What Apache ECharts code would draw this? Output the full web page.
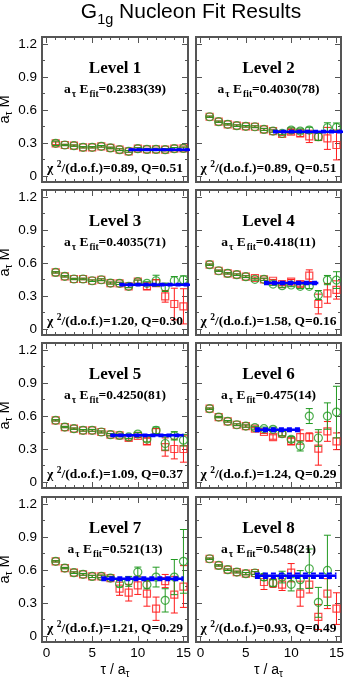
<!DOCTYPE html>
<html>
<head>
<meta charset="utf-8">
<script src="https://cdn.jsdelivr.net/npm/echarts@6/dist/echarts.min.js"></script>
<style>
html, body { margin: 0; padding: 0; background: #fff; }
#chart { width: 346px; height: 677px; }
</style>
</head>
<body>
<div id="chart"></div>
<script>
const tau = [1, 2, 3, 4, 5, 6, 7, 8, 9, 10, 11, 12, 13, 14, 15]
const levels = ['Level 1', 'Level 2', 'Level 3', 'Level 4', 'Level 5', 'Level 6', 'Level 7', 'Level 8']

const redM = [
  [0.297, 0.282, 0.276, 0.261, 0.261, 0.270, 0.255, 0.239, 0.224, 0.248, 0.242, 0.242, 0.239, 0.248, 0.251],
  [0.539, 0.494, 0.470, 0.458, 0.452, 0.448, 0.424, 0.409, 0.382, 0.403, 0.388, 0.360, 0.357, 0.342, 0.282],
  [0.515, 0.479, 0.455, 0.455, 0.439, 0.448, 0.418, 0.415, 0.388, 0.430, 0.388, 0.418, 0.297, 0.227, 0.206],
  [0.585, 0.530, 0.506, 0.494, 0.476, 0.464, 0.452, 0.439, 0.409, 0.430, 0.409, 0.485, 0.227, 0.324, 0.355],
  [0.561, 0.500, 0.485, 0.470, 0.470, 0.455, 0.430, 0.424, 0.400, 0.420, 0.370, 0.455, 0.318, 0.300, 0.300],
  [0.667, 0.591, 0.552, 0.521, 0.509, 0.485, 0.455, 0.409, 0.440, 0.370, 0.409, 0.409, 0.303, 0.460, 0.370],
  [0.679, 0.618, 0.576, 0.561, 0.542, 0.542, 0.527, 0.430, 0.394, 0.461, 0.385, 0.248, 0.500, 0.376, 0.450],
  [0.703, 0.642, 0.603, 0.582, 0.567, 0.573, 0.491, 0.482, 0.467, 0.576, 0.385, 0.467, 0.173, 0.385, 0.249]
]
const redErr = [
  [0.012, 0.006, 0.006, 0.006, 0.006, 0.007, 0.007, 0.008, 0.008, 0.009, 0.009, 0.010, 0.010, 0.011, 0.012],
  [0.006, 0.006, 0.006, 0.007, 0.007, 0.008, 0.009, 0.010, 0.012, 0.020, 0.030, 0.056, 0.035, 0.100, 0.136],
  [0.006, 0.006, 0.006, 0.007, 0.007, 0.008, 0.009, 0.010, 0.012, 0.015, 0.030, 0.030, 0.053, 0.144, 0.160],
  [0.006, 0.006, 0.006, 0.007, 0.008, 0.009, 0.010, 0.012, 0.015, 0.020, 0.020, 0.053, 0.090, 0.090, 0.083],
  [0.006, 0.006, 0.006, 0.007, 0.008, 0.009, 0.010, 0.012, 0.020, 0.015, 0.030, 0.030, 0.083, 0.090, 0.120],
  [0.006, 0.006, 0.007, 0.008, 0.010, 0.012, 0.015, 0.020, 0.020, 0.030, 0.065, 0.038, 0.150, 0.090, 0.076],
  [0.006, 0.006, 0.007, 0.008, 0.010, 0.012, 0.015, 0.060, 0.076, 0.083, 0.114, 0.106, 0.060, 0.167, 0.190],
  [0.006, 0.006, 0.007, 0.008, 0.010, 0.012, 0.068, 0.040, 0.053, 0.083, 0.114, 0.076, 0.114, 0.136, 0.144]
]
const greenM = [
  [0.297, 0.282, 0.276, 0.261, 0.261, 0.270, 0.255, 0.239, 0.224, 0.248, 0.242, 0.242, 0.239, 0.248, 0.251],
  [0.539, 0.494, 0.470, 0.458, 0.452, 0.448, 0.424, 0.409, 0.388, 0.418, 0.409, 0.418, 0.357, 0.439, 0.442],
  [0.515, 0.479, 0.455, 0.455, 0.439, 0.448, 0.418, 0.415, 0.388, 0.430, 0.415, 0.439, 0.379, 0.439, 0.448],
  [0.585, 0.530, 0.506, 0.494, 0.476, 0.452, 0.452, 0.409, 0.394, 0.400, 0.388, 0.388, 0.309, 0.445, 0.445],
  [0.561, 0.500, 0.485, 0.470, 0.470, 0.455, 0.430, 0.424, 0.410, 0.436, 0.390, 0.470, 0.350, 0.420, 0.380],
  [0.667, 0.591, 0.552, 0.521, 0.509, 0.494, 0.485, 0.479, 0.440, 0.388, 0.327, 0.600, 0.400, 0.600, 0.636],
  [0.679, 0.618, 0.576, 0.561, 0.542, 0.542, 0.527, 0.476, 0.497, 0.582, 0.467, 0.536, 0.324, 0.536, 0.679],
  [0.703, 0.642, 0.603, 0.582, 0.567, 0.573, 0.536, 0.482, 0.536, 0.470, 0.512, 0.612, 0.306, 0.597, null]
]
const greenErr = [
  [0.020, 0.006, 0.006, 0.006, 0.006, 0.007, 0.007, 0.008, 0.008, 0.009, 0.009, 0.010, 0.010, 0.011, 0.012],
  [0.006, 0.006, 0.006, 0.007, 0.007, 0.008, 0.009, 0.010, 0.012, 0.020, 0.020, 0.025, 0.033, 0.045, 0.040],
  [0.006, 0.006, 0.006, 0.007, 0.007, 0.008, 0.009, 0.010, 0.012, 0.015, 0.015, 0.050, 0.038, 0.038, 0.035],
  [0.006, 0.006, 0.006, 0.007, 0.008, 0.009, 0.010, 0.012, 0.015, 0.015, 0.020, 0.020, 0.041, 0.042, 0.076],
  [0.006, 0.006, 0.006, 0.007, 0.008, 0.009, 0.010, 0.012, 0.015, 0.015, 0.025, 0.030, 0.060, 0.038, 0.053],
  [0.006, 0.006, 0.007, 0.008, 0.010, 0.012, 0.015, 0.020, 0.020, 0.025, 0.045, 0.068, 0.076, 0.120, 0.235],
  [0.006, 0.006, 0.007, 0.008, 0.010, 0.012, 0.015, 0.030, 0.045, 0.045, 0.038, 0.090, 0.106, 0.160, 0.290],
  [0.006, 0.006, 0.007, 0.008, 0.010, 0.012, 0.030, 0.030, 0.053, 0.060, 0.083, 0.180, 0.136, 0.320, null]
]

// fit results per level
const fitE = [0.2383, 0.4030, 0.4035, 0.418, 0.4250, 0.475, 0.521, 0.548]
const fitErr = [0.0039, 0.0078, 0.0071, 0.011, 0.0081, 0.014, 0.013, 0.021]
const fitFrom = [9, 8, 8, 7, 7, 6, 6, 6]
const fitTo = [16, 16, 16, 13, 15, 11, 15, 15]
const fitText = ['0.2383(39)', '0.4030(78)', '0.4035(71)', '0.418(11)', '0.4250(81)', '0.475(14)', '0.521(13)', '0.548(21)']
const chi2 = ['0.89', '0.89', '1.20', '1.58', '1.09', '1.24', '1.21', '0.93']
const qVal = ['0.51', '0.51', '0.30', '0.16', '0.37', '0.29', '0.29', '0.49']

// tick labels
const xMajor = [0, 5, 10, 15]
const xMinor = [0, 1, 2, 3, 4, 5, 6, 7, 8, 9, 10, 11, 12, 13, 14, 15]
const yMajor = [0, 0.3, 0.6, 0.9, 1.2]
const yMinor = [0.15, 0.45, 0.75, 1.05]

const SANS = 'Liberation Sans'
const SERIF = 'Liberation Serif'
const FRAME = '#555'
const RED = '#ff1a1a'
const GREEN = '#229a22'
const BLUE = '#0000ff'

const colLeft = [42, 196]
const colWidth = [146, 145]
const rowTop = [37, 190, 343, 497]
const panelH = 145

function errorBars (color) {
  return function (params, api) {
    const t = api.value(0)
    const v = api.value(1)
    const e = api.value(2)
    const hi = api.coord([t, v + e])
    const lo = api.coord([t, v - e])
    const style = { stroke: color, lineWidth: 1 }
    return {
      type: 'group',
      children: [
        { type: 'line', shape: { x1: hi[0], y1: hi[1], x2: lo[0], y2: lo[1] }, style },
        { type: 'line', shape: { x1: hi[0] - 3.5, y1: hi[1], x2: hi[0] + 3.5, y2: hi[1] }, style },
        { type: 'line', shape: { x1: lo[0] - 3.5, y1: lo[1], x2: lo[0] + 3.5, y2: lo[1] }, style }
      ]
    }
  }
}

function points (vals, errs) {
  return tau.map((t, j) => [t, vals[j], errs[j]]).filter(d => d[1] != null)
}

const subRich = {
  a: { fontFamily: SERIF, fontWeight: 'bold', fontSize: 13.5, lineHeight: 15, fill: '#000', verticalAlign: 'middle' },
  s: { fontFamily: SERIF, fontWeight: 'bold', fontSize: 9.5, lineHeight: 10, fill: '#000', padding: [9, 0, 0, 1], verticalAlign: 'middle' },
  p: { fontFamily: SERIF, fontWeight: 'bold', fontSize: 9.5, lineHeight: 10, fill: '#000', padding: [0, 0, 9, 0], verticalAlign: 'middle' }
}

const grid = []
const xAxis = []
const yAxis = []
const series = []
const graphic = []

levels.forEach((name, i) => {
  const col = i % 2
  const row = Math.floor(i / 2)
  const left = colLeft[col]
  const top = rowTop[row]
  const w = colWidth[col]
  const cx = left + w / 2
  grid.push({
    left, top, width: w, height: panelH,
    show: true, borderColor: FRAME, borderWidth: 2,
    outerBoundsMode: 'none'
  })

  const xBase = {
    type: 'value', gridIndex: i, min: -0.5, max: 15.5,
    splitLine: { show: false }, axisLine: { show: false, onZero: false }
  }
  const tickStyle = { color: FRAME, width: 1 }
  const bottomRow = row === 3
  xAxis.push({
    ...xBase, position: 'bottom',
    axisTick: { inside: true, length: 6, customValues: xMajor, lineStyle: tickStyle },
    axisLabel: { show: bottomRow, customValues: xMajor, margin: 4, fontSize: 13.5, fontFamily: SANS, color: '#000' },
    name: bottomRow ? '{a|τ / a}{s|τ}' : '',
    nameLocation: 'middle', nameGap: 18,
    nameTextStyle: {
      rich: {
        a: { fontFamily: SANS, fontSize: 14, lineHeight: 16, color: '#000', verticalAlign: 'middle' },
        s: { fontFamily: SANS, fontSize: 10, lineHeight: 11, color: '#000', padding: [8, 0, 0, 0], verticalAlign: 'middle' }
      }
    }
  })
  xAxis.push({ ...xBase, position: 'bottom', axisTick: { inside: true, length: 3, customValues: xMinor, lineStyle: tickStyle }, axisLabel: { show: false } })
  xAxis.push({ ...xBase, position: 'top', axisTick: { inside: true, length: 6, customValues: xMajor, lineStyle: tickStyle }, axisLabel: { show: false } })
  xAxis.push({ ...xBase, position: 'top', axisTick: { inside: true, length: 3, customValues: xMinor, lineStyle: tickStyle }, axisLabel: { show: false } })

  const yBase = {
    type: 'value', gridIndex: i, min: -0.055, max: 1.265,
    splitLine: { show: false }, axisLine: { show: false, onZero: false }
  }
  const leftCol = col === 0
  yAxis.push({
    ...yBase, position: 'left',
    axisTick: { inside: true, length: 6, customValues: yMajor, lineStyle: tickStyle },
    axisLabel: { show: leftCol, customValues: yMajor, margin: 5, fontSize: 13.5, fontFamily: SANS, color: '#000' },
    name: leftCol ? '{a|a}{s|τ}{a| M}' : '',
    nameLocation: 'middle', nameGap: 24, nameRotate: 90,
    nameTextStyle: {
      rich: {
        a: { fontFamily: SANS, fontSize: 14.5, lineHeight: 16, color: '#000', verticalAlign: 'middle' },
        s: { fontFamily: SANS, fontSize: 10, lineHeight: 11, color: '#000', padding: [8, 0, 0, 0], verticalAlign: 'middle' }
      }
    }
  })
  yAxis.push({ ...yBase, position: 'left', axisTick: { inside: true, length: 3, customValues: yMinor, lineStyle: tickStyle }, axisLabel: { show: false } })
  yAxis.push({ ...yBase, position: 'right', axisTick: { inside: true, length: 6, customValues: yMajor, lineStyle: tickStyle }, axisLabel: { show: false } })
  yAxis.push({ ...yBase, position: 'right', axisTick: { inside: true, length: 3, customValues: yMinor, lineStyle: tickStyle }, axisLabel: { show: false } })

  const ax = { xAxisIndex: i * 4, yAxisIndex: i * 4 }
  series.push({
    ...ax, type: 'custom', renderItem: errorBars(RED), clip: true,
    encode: { x: 0, y: 1 }, data: points(redM[i], redErr[i]), z: 2
  })
  series.push({
    ...ax, type: 'scatter', symbol: 'rect', symbolSize: 7,
    itemStyle: { color: 'transparent', borderColor: RED, borderWidth: 1.2 },
    data: points(redM[i], redErr[i]), z: 3
  })
  series.push({
    ...ax, type: 'custom', renderItem: errorBars(GREEN), clip: true,
    encode: { x: 0, y: 1 }, data: points(greenM[i], greenErr[i]), z: 4
  })
  series.push({
    ...ax, type: 'scatter', symbol: 'circle', symbolSize: 8,
    itemStyle: { color: 'transparent', borderColor: GREEN, borderWidth: 1.2 },
    data: points(greenM[i], greenErr[i]), z: 5
  })
  const fitLine = (v, style) => ({
    ...ax, type: 'line', symbol: 'none', silent: true, z: 6,
    lineStyle: style,
    data: [[fitFrom[i], v], [fitTo[i], v]]
  })
  series.push(fitLine(fitE[i], { color: BLUE, width: 2.5 }))
  series.push(fitLine(fitE[i] + fitErr[i], { color: BLUE, width: 2, type: [5, 3] }))
  series.push(fitLine(fitE[i] - fitErr[i], { color: BLUE, width: 2, type: [5, 3] }))

  graphic.push({
    type: 'text', x: cx, y: top + 32, z: 100,
    style: {
      text: name, fontFamily: SERIF, fontWeight: 'bold', fontSize: 17, fill: '#000',
      align: 'center', verticalAlign: 'middle', textAlign: 'center', textVerticalAlign: 'middle'
    }
  })
  graphic.push({
    type: 'text', x: cx, y: top + 53, z: 100,
    style: {
      text: '{a|a}{s|τ}{a| E}{s|fit}{a|=' + fitText[i] + '}', rich: subRich,
      align: 'center', verticalAlign: 'middle', textAlign: 'center', textVerticalAlign: 'middle'
    }
  })
  graphic.push({
    type: 'text', x: cx, y: top + 132, z: 100,
    style: {
      text: '{a|χ }{p|2}{a|/(d.o.f.)=' + chi2[i] + ', Q=' + qVal[i] + '}', rich: subRich,
      align: 'center', verticalAlign: 'middle', textAlign: 'center', textVerticalAlign: 'middle'
    }
  })
})

graphic.push({
  type: 'text', x: 191, y: 12, z: 100,
  style: {
    text: '{a|G}{s|1g}{a| Nucleon Fit Results}',
    rich: {
      a: { fontFamily: SANS, fontSize: 21, lineHeight: 22, fill: '#000', verticalAlign: 'middle' },
      s: { fontFamily: SANS, fontSize: 14.5, lineHeight: 15, fill: '#000', padding: [15, 0, 0, 0], verticalAlign: 'middle' }
    },
    align: 'center', verticalAlign: 'middle', textAlign: 'center', textVerticalAlign: 'middle'
  }
})

const chart = echarts.init(document.getElementById('chart'))
chart.setOption({
  animation: false,
  backgroundColor: '#fff',
  grid, xAxis, yAxis, series, graphic
})
</script>
</body>
</html>
